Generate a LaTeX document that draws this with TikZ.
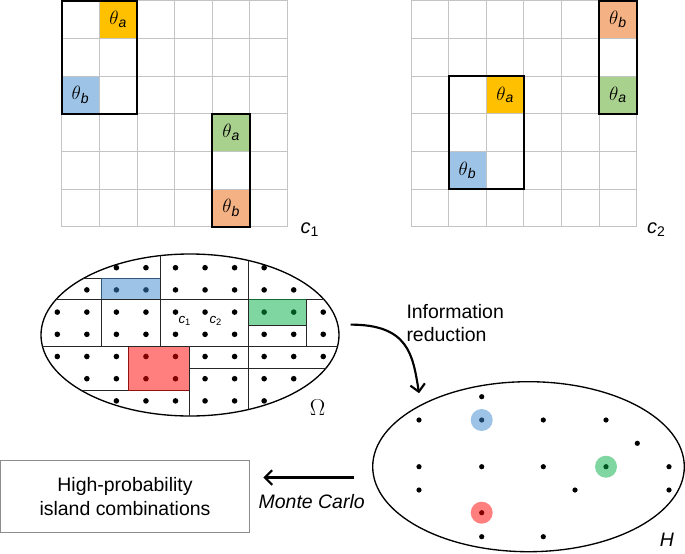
\documentclass[tikz,border=0pt]{standalone}
\usepackage{fontspec}
\setmainfont{Liberation Sans}
\usetikzlibrary{shapes.geometric,arrows.meta}

\definecolor{amber}{HTML}{FFC000}
\definecolor{skyblue}{HTML}{9DC3E6}
\definecolor{leafgreen}{HTML}{A9D18E}
\definecolor{peach}{HTML}{F4B183}
\definecolor{gridgray}{HTML}{C4C4C4}
\definecolor{boxgray}{HTML}{8C8C8C}
\definecolor{isleblue}{RGB}{59,135,205}
\definecolor{islegreen}{RGB}{1,173,65}
\definecolor{islered}{RGB}{255,0,0}

\tikzset{every picture/.style={line width=0.75pt}}
\tikzset{
  gridline/.style={draw=gridgray, line width=0.75pt},
  islandbox/.style={draw=black, line width=1.5pt},
  thlabel/.style={inner sep=0pt, font=\fontsize{15}{18}\selectfont},
  partline/.style={draw=black!85, line width=0.6pt},
  tint/.style={fill=#1, fill opacity=0.5},
  space/.style={ellipse, draw, line width=1pt, inner sep=0pt},
  bigtext/.style={font=\fontsize{14.6}{17.5}\selectfont},
  flowarrow/.style={-{Straight Barb[length=5.5pt,width=11pt]}, line width=1.6pt},
}

\begin{document}
\begin{tikzpicture}[x=0.75pt,y=0.75pt,yscale=-1]
  \useasboundingbox (0,0) rectangle (685,553);

  %Shapes: coloured cells of c1 and c2
  \foreach \g/\gx/\c/\r/\col/\lab in {1/61.7/1/0/amber/a, 1/61.7/0/2/skyblue/b, 1/61.7/4/3/leafgreen/a, 1/61.7/4/5/peach/b,
                                     2/411/5/0/peach/b, 2/411/5/2/leafgreen/a, 2/411/2/2/amber/a, 2/411/1/4/skyblue/b}{
    \fill[\col] ({\gx+\c*37.65},{0.8+\r*37.65}) rectangle ++(37.65,37.65);
    % Text Node
    \node[thlabel] (th\g-\c-\r) at ({\gx+(\c+0.5)*37.65},{0.8+(\r+0.5)*37.65}) {$\theta$\textsubscript{\itshape\lab}};
  }
  %Shapes: the two 6x6 grids
  \foreach \g/\gx in {1/61.7,2/411}{
    \foreach \i in {0,...,6}{
      \draw[gridline] ({\gx+\i*37.65},0.8) -- ({\gx+\i*37.65},226.7);
      \draw[gridline] (\gx,{0.8+\i*37.65}) -- ({\gx+225.9},{0.8+\i*37.65});
    }
  }
  %Shape: Rectangle (islands)
  \draw[islandbox] (61.7,0.8) rectangle ++(75.3,112.95);
  \draw[islandbox] ({61.7+4*37.65},{0.8+3*37.65}) rectangle ++(37.65,112.95);
  \draw[islandbox] ({411+37.65},{0.8+2*37.65}) rectangle ++(75.3,112.95);
  \draw[islandbox] ({411+5*37.65},0.8) rectangle ++(37.65,112.95);

  % Text Node
  \node[anchor=base west, inner sep=0pt, font=\fontsize{15}{18}\selectfont] (c1lab) at (300,233) {\textit{c}\textsubscript{1}};
  % Text Node
  \node[anchor=base west, inner sep=0pt, font=\fontsize{15}{18}\selectfont] (c2lab) at (646.7,233) {\textit{c}\textsubscript{2}};

  %Shape: Ellipse (Omega)
  \node[space, minimum width=223.5pt, minimum height=121.5pt] (Om) at (190,335) {};
  \begin{scope}
    \clip (190,335) ellipse [x radius=149, y radius=81];
    \foreach \r/\s/\e in {0/2/7, 1/1/8, 2/0/9, 3/0/9, 4/0/9, 5/1/8, 6/2/7}{
      \foreach \c in {\s,...,\e}
        \fill ({57.3+\c*29.55},{267.7+\r*22.2}) circle[radius=2.8];
    }
    %Straight Lines
    \draw[partline] (0,299.3) -- (400,299.3);
    \draw[partline] (0,346.7) -- (400,346.7);
    \draw[partline] (60,278.3) -- (160,278.3);
    \draw[partline] (160,240) -- (160,346.7);
    \draw[partline] (101,278.3) -- (101,346.7);
    \draw[partline] (248.7,240) -- (248.7,430);
    \draw[partline] (248.7,325) -- (306.3,325);
    \draw[partline] (306.3,299.3) -- (306.3,346.7);
    \draw[partline] (189.3,368.3) -- (400,368.3);
    \draw[partline] (0,390.5) -- (189.3,390.5);
    \draw[partline] (128.3,346.7) -- (128.3,390.5);
    \draw[partline] (189.3,346.7) -- (189.3,430);
    %Shape: Rectangle (selected islands)
    \fill[tint=isleblue] (101,278.3) rectangle (160,299.3);
    \fill[tint=islegreen] (248.7,299.3) rectangle (306.3,325);
    \fill[tint=islered] (128.3,346.7) rectangle (189.3,390.5);
  \end{scope}
  % Text Node
  \node[anchor=base west, inner sep=0pt, font=\fontsize{10}{12}\selectfont] (c1om) at (178,323.3) {\textit{c}\textsubscript{1}};
  % Text Node
  \node[anchor=base west, inner sep=0pt, font=\fontsize{10}{12}\selectfont] (c2om) at (209,323.3) {\textit{c}\textsubscript{2}};
  % Text Node
  \node[anchor=base west, inner sep=0pt, font=\fontsize{16}{19}\selectfont] (Omlab) at (309.3,415.5) {$\Omega$};

  %Shape: Ellipse (H)
  \node[space, minimum width=233.7pt, minimum height=127.5pt] (Hs) at (528.5,466.7) {};
  \foreach \x/\y in {481.7/396.7, 419/420, 481.7/420, 543.3/420, 606/420, 637.3/443.3,
                     419/466.7, 481.7/466.7, 543.3/466.7, 606/466.7, 669/466.7,
                     419/490, 575/490, 669/490, 481.7/512.7, 481.7/536.7, 543.3/536.7}
    \fill (\x,\y) circle[radius=2.6];
  \fill[tint=isleblue] (481.7,420) circle[radius=11];
  \fill[tint=islegreen] (606,466.7) circle[radius=11];
  \fill[tint=islered] (481.7,512.7) circle[radius=11];
  % Text Node
  \node[anchor=base west, inner sep=0pt, font=\fontsize{14.6}{17.5}\selectfont] (Hlab) at (659.3,546.7) {\textit{H}};

  %Shape: Rectangle (result)
  \node[draw=boxgray, bigtext, align=center, minimum width=186.6pt, minimum height=53.7pt] (hpic) at (125,496.5) {High-probability\\island combinations};

  % Text Node
  \node[bigtext, align=left, anchor=west, inner sep=0pt] (irlab) at (406,323) {Information\\reduction};
  % Text Node
  \node[bigtext, anchor=base, inner sep=0pt] (mclab) at (311.7,508.3) {\itshape Monte Carlo};

  %Curve Lines
  \draw[flowarrow, shorten <=9.2pt, shorten >=8.6pt] (Om.4) .. controls +(70,0) and +(-8,-50) .. (Hs.150);
  \draw[flowarrow, shorten <=14.25pt, shorten >=10.1pt] (Hs.184) -- (hpic.east |- Hs.184);
\end{tikzpicture}
\end{document}
